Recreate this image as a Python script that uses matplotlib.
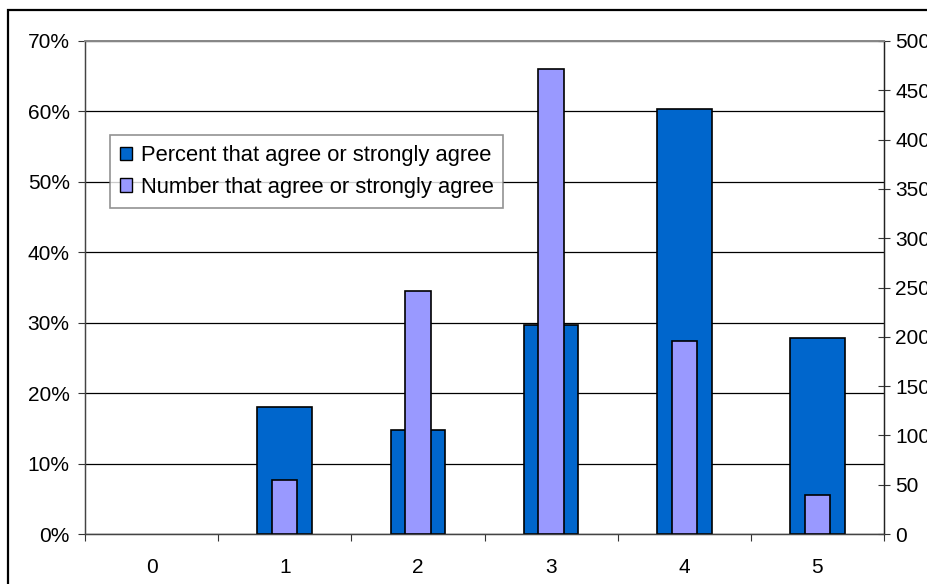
import matplotlib
matplotlib.use("Agg")
import matplotlib.pyplot as plt
from matplotlib.patches import Rectangle, Patch
from matplotlib.ticker import FixedLocator

plt.rcParams['font.family'] = ['Liberation Sans', 'DejaVu Sans']

categories = ["0", "1", "2", "3", "4", "5"]
percent_agree = [0.0, 18.0, 14.8, 29.7, 60.4, 27.8]
number_agree = [0, 55, 246, 472, 196, 40]
left_ticks = [0, 10, 20, 30, 40, 50, 60, 70]
right_ticks = [0, 50, 100, 150, 200, 250, 300, 350, 400, 450, 500]
series_labels = ["Percent that agree or strongly agree",
                 "Number that agree or strongly agree"]

BLUE = "#0066CC"
LAVENDER = "#9999FF"

W, H = 927, 584
fig = plt.figure(figsize=(W / 100, H / 100), dpi=100)
fig.patch.set_facecolor("white")

# outer frame
fig.patches.append(Rectangle((8 / W, -0.05), 1.0, (H - 10) / H + 0.05,
                             transform=fig.transFigure, fill=False,
                             edgecolor="black", linewidth=1.6, clip_on=False))

ax = fig.add_axes([85 / W, (H - 534) / H, (884 - 85) / W, (534 - 41) / H])
ax2 = ax.twinx()
ax.set_zorder(1)
ax2.set_zorder(2)
ax2.patch.set_visible(False)

x = list(range(len(categories)))
bars1 = ax.bar(x, percent_agree, width=0.41, color=BLUE, edgecolor="black",
               linewidth=1.2, zorder=3)
bars2 = ax2.bar(x, number_agree, width=0.19, color=LAVENDER, edgecolor="black",
                linewidth=1.2, zorder=3)
for b, v in zip(bars1, percent_agree):
    if v == 0:
        b.set_visible(False)
for b, v in zip(bars2, number_agree):
    if v == 0:
        b.set_visible(False)

ax.set_xlim(-0.5, len(categories) - 0.5)
ax.set_ylim(0, 70)
ax2.set_ylim(0, 500)

ax.set_yticks(left_ticks)
ax.set_yticklabels([f"{t}%" for t in left_ticks])
ax2.set_yticks(right_ticks)
ax2.set_yticklabels([str(t) for t in right_ticks])

# x ticks at category boundaries, labels at centers
ax.xaxis.set_major_locator(FixedLocator([i - 0.5 for i in range(len(categories) + 1)]))
ax.set_xticklabels([])
ax.set_xticks(x, minor=True)
ax.set_xticklabels(categories, minor=True)
ax.tick_params(axis="x", which="major", direction="out", length=5, width=0.8, color="#333333")
ax.tick_params(axis="x", which="minor", length=0, pad=17, labelsize=15)
ax.tick_params(axis="y", direction="out", length=5, width=0.8, pad=6, labelsize=15,
               color="#333333")
ax2.tick_params(axis="y", direction="inout", length=8, width=0.8, pad=4, labelsize=15,
                color="#333333")
ax2.tick_params(axis="x", length=0)

ax.yaxis.grid(True, color="black", linewidth=0.9, zorder=0)
ax.set_axisbelow(True)

for a in (ax, ax2):
    a.spines["top"].set_color("#888888")
    a.spines["top"].set_linewidth(1.3)
    a.spines["left"].set_color("#444444")
    a.spines["left"].set_linewidth(0.9)
    a.spines["right"].set_color("#222222")
    a.spines["right"].set_linewidth(0.9)
    a.spines["bottom"].set_color("#444444")
    a.spines["bottom"].set_linewidth(0.9)

handles = [Patch(facecolor=BLUE, edgecolor="black", linewidth=1.0),
           Patch(facecolor=LAVENDER, edgecolor="black", linewidth=1.0)]
leg = ax2.legend(handles, series_labels, loc="upper left",
                 bbox_to_anchor=(110 / W, (H - 135) / H),
                 bbox_transform=fig.transFigure,
                 fontsize=15.8, frameon=True, fancybox=False,
                 edgecolor="#777777", handlelength=0.55, handleheight=0.55,
                 handletextpad=0.4, borderpad=0.45, labelspacing=0.5,
                 borderaxespad=0)
leg.get_frame().set_linewidth(1.2)

fig.savefig("out.png", dpi=100)
